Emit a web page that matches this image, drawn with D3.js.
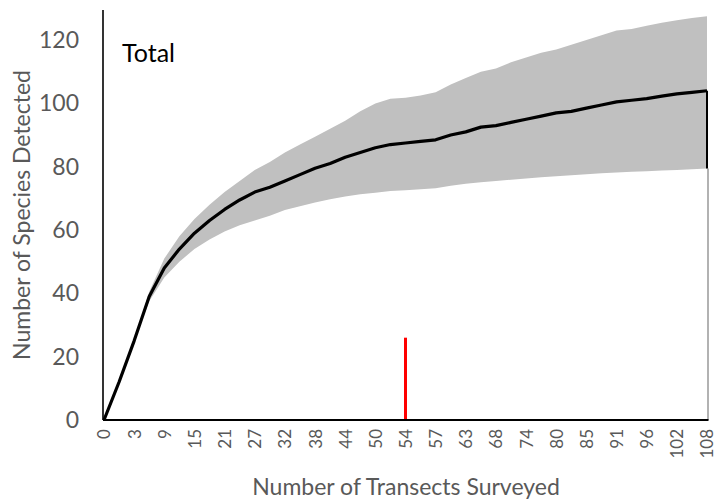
<!DOCTYPE html>
<html>
<head>
<meta charset="utf-8">
<script src="https://cdn.jsdelivr.net/npm/d3@7"></script>
<style>
  body { margin: 0; background: #fff; }
  svg text { font-family: Lato, "Open Sans", sans-serif; }
</style>
</head>
<body>
<svg id="chart" width="726" height="502"></svg>
<script>
// Rarefaction curve: mean species detected with its confidence band
const tickLabels = ["0","3","9","15","21","27","32","38","44","50","54","57","63","68","74","80","85","91","96","102","108"];
const sampleIndex = d3.range(41);
const meanSpecies = [0,12,25,39,48,54,59,63,66.5,69.5,72,73.5,75.5,77.5,79.5,81,83,84.5,86,87,87.5,88,88.5,90,91,92.5,93,94,95,96,97,97.5,98.5,99.5,100.5,101,101.5,102.3,103,103.5,104];
const upperCI = [0,12,25,40.5,51,58,63.5,68,72,75.5,79,81.5,84.5,87,89.5,92,94.5,97.5,100,101.5,101.8,102.5,103.5,106,108,110,111,113,114.5,116,117,118.5,120,121.5,123,123.5,124.5,125.5,126.3,127,127.5];
const lowerCI = [0,12,25,37.5,45,50,54,57,59.5,61.5,63,64.5,66.3,67.5,68.7,69.7,70.6,71.3,71.8,72.3,72.6,72.9,73.2,74,74.6,75.1,75.5,75.9,76.3,76.7,77,77.3,77.6,77.9,78.2,78.4,78.6,78.8,79,79.2,79.4];
const yTicks = [0,20,40,60,80,100,120];
const markerIndex = [20];
const markerValue = [26];

const svg = d3.select("#chart");
const plotLeft = 103, plotRight = 707, plotTop = 10, plotBottom = 420;

const x = d3.scalePoint().domain(sampleIndex).range([plotLeft + 1, plotRight]);
const y = d3.scaleLinear().domain([0, 129.5]).range([plotBottom, plotTop]);

const rows = sampleIndex.map(i => ({ i, m: meanSpecies[i], lo: lowerCI[i], hi: upperCI[i] }));

// confidence band
svg.append("path")
  .datum(rows)
  .attr("fill", "#c0c0c0")
  .attr("d", d3.area().x(d => x(d.i)).y0(d => y(d.lo)).y1(d => y(d.hi)));

// right edge of the plot area
svg.append("line")
  .attr("x1", plotRight + 1).attr("x2", plotRight + 1)
  .attr("y1", y(lowerCI[40])).attr("y2", plotBottom)
  .attr("stroke", "#7f7f7f").attr("stroke-width", 1.2);

// mean curve, closing down to the lower bound at the last sample
const last = rows[rows.length - 1];
svg.append("path")
  .datum(rows)
  .attr("fill", "none").attr("stroke", "#000").attr("stroke-width", 3.2)
  .attr("stroke-linejoin", "round")
  .attr("d", d3.line().x(d => x(d.i)).y(d => y(d.m)));
svg.append("line")
  .attr("x1", x(last.i)).attr("x2", x(last.i))
  .attr("y1", y(last.m)).attr("y2", y(last.lo))
  .attr("stroke", "#000").attr("stroke-width", 2);

// marker line
svg.selectAll(".marker").data(markerIndex).join("line")
  .attr("class", "marker")
  .attr("x1", d => x(d)).attr("x2", d => x(d))
  .attr("y1", (d, k) => y(markerValue[k])).attr("y2", plotBottom)
  .attr("stroke", "#ff0000").attr("stroke-width", 3);

// axes
const xAxis = d3.axisBottom(x)
  .tickValues(sampleIndex.filter(i => i % 2 === 0))
  .tickFormat(i => tickLabels[i / 2])
  .tickSize(0);
const gx = svg.append("g").attr("transform", `translate(0,${plotBottom})`).call(xAxis);
gx.select(".domain").attr("stroke", "#000").attr("stroke-width", 2.2)
  .attr("d", `M${plotLeft},0H${plotRight + 1.5}`);
gx.selectAll("text")
  .attr("fill", "#595959").attr("font-size", 17)
  .attr("text-anchor", "end")
  .attr("transform", "rotate(-90)")
  .attr("x", -9).attr("y", 0).attr("dy", "0.35em");

const yAxis = d3.axisLeft(y).tickValues(yTicks).tickSize(0);
const gy = svg.append("g").attr("transform", `translate(${plotLeft},0)`).call(yAxis);
gy.select(".domain").attr("stroke", "#000").attr("stroke-width", 1.6)
  .attr("d", `M0,${plotTop}V${plotBottom}`);
gy.selectAll("text")
  .attr("fill", "#595959").attr("font-size", 23)
  .attr("x", -24);

// titles
svg.append("text").attr("x", 122).attr("y", 62)
  .attr("font-size", 25).attr("fill", "#000").text("Total");

svg.append("text")
  .attr("transform", "translate(30,215) rotate(-90)")
  .attr("text-anchor", "middle").attr("font-size", 23).attr("fill", "#595959")
  .text("Number of Species Detected");

svg.append("text")
  .attr("x", 406).attr("y", 495)
  .attr("text-anchor", "middle").attr("font-size", 23).attr("fill", "#595959")
  .text("Number of Transects Surveyed");
</script>
</body>
</html>
